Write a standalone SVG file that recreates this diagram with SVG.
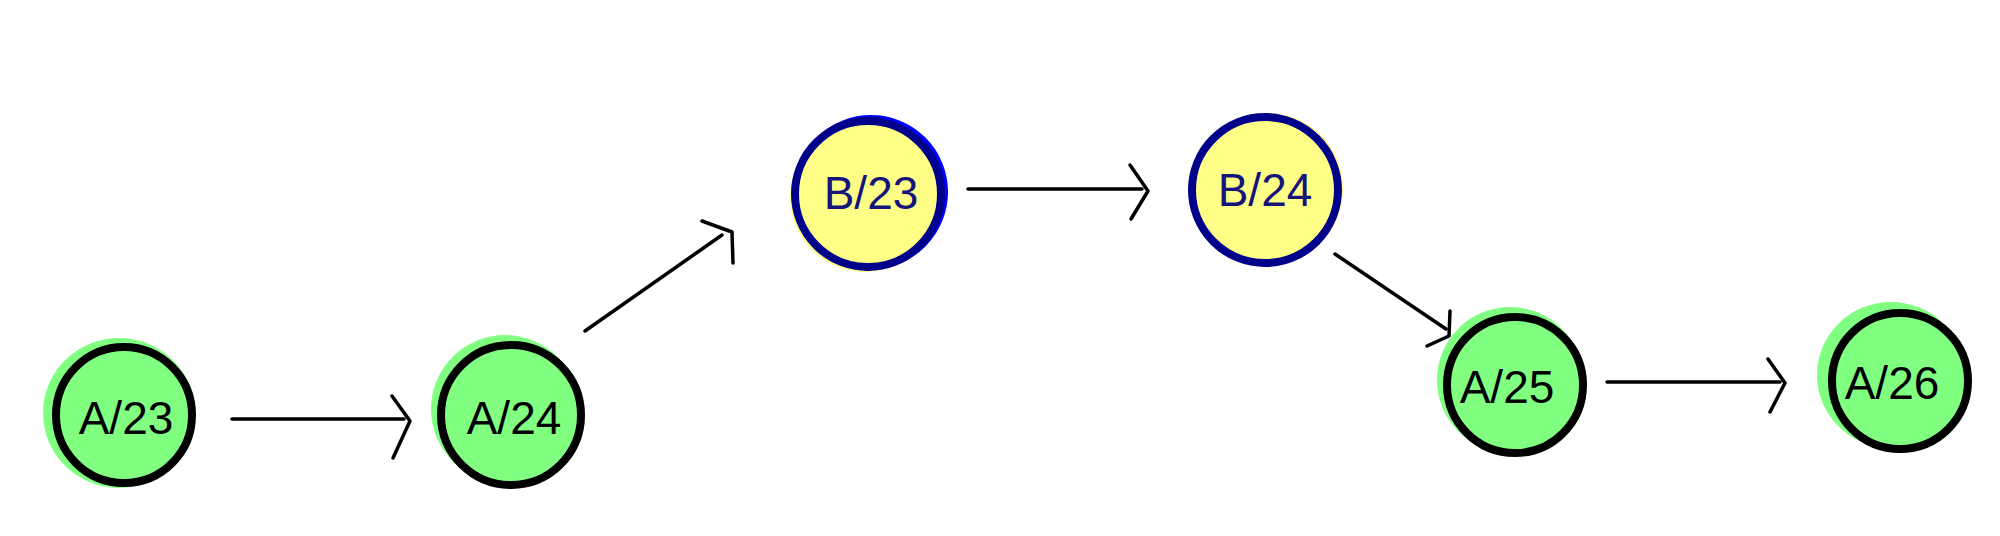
<svg xmlns="http://www.w3.org/2000/svg" width="2000" height="536" viewBox="0 0 2000 536">
<defs>
<style>
.blob-g{fill:#80ff80;stroke:none}
.ring-g{fill:#80ff80;stroke:#000;stroke-width:8}
.blob-y{fill:#ffff88;stroke:none}
.ring-y{fill:#ffff88;stroke:#00008b;stroke-width:8}
.ring-b{fill:none;stroke:#0000ff;stroke-width:6}
.lbl{font-family:"Liberation Sans",Arial,sans-serif;font-size:46px;text-anchor:middle;dominant-baseline:central}
.lbl-k{fill:#000}
.lbl-n{fill:#14147a}
.edge{fill:none;stroke:#000;stroke-width:3.5;stroke-linecap:round;stroke-linejoin:round}
</style>
</defs>
<rect width="2000" height="536" fill="#fff"/>
<g id="connectors">
<path class="edge" d="M232 419 L404 419"/><path class="edge" d="M392 396 L410 421 L393 458"/>
<path class="edge" d="M585 331 L722 235"/><path class="edge" d="M702 221 L732 232 L733 263"/>
<path class="edge" d="M968 189 L1142 189"/><path class="edge" d="M1130 165 L1148 191 L1131 219"/>
<path class="edge" d="M1335 254 L1446 329"/><path class="edge" d="M1450 311 L1449 336 L1427 346"/>
<path class="edge" d="M1607 382 L1780 382"/><path class="edge" d="M1768 359 L1785 383 L1770 412"/>
</g>
<g id="node-A23">
<ellipse class="blob-g" cx="119" cy="413" rx="76" ry="75"/>
<circle class="ring-g" cx="124" cy="415" r="68"/>
<text class="lbl lbl-k" x="126" y="418">A/23</text>
</g>
<g id="node-A24">
<ellipse class="blob-g" cx="505" cy="409" rx="74" ry="74"/>
<circle class="ring-g" cx="511" cy="415" r="70"/>
<text class="lbl lbl-k" x="514" y="418">A/24</text>
</g>
<g id="node-B23">
<circle class="blob-y" cx="865" cy="197" r="75"/>
<circle class="ring-b" cx="871" cy="192" r="74"/>
<circle class="ring-y" cx="868" cy="194" r="73"/>
<text class="lbl lbl-n" x="871" y="193">B/23</text>
</g>
<g id="node-B24">
<circle class="blob-y" cx="1268" cy="188" r="75"/>
<circle class="ring-y" cx="1265" cy="190" r="73"/>
<text class="lbl lbl-n" x="1265" y="190">B/24</text>
</g>
<g id="node-A25">
<ellipse class="blob-g" cx="1510" cy="380" rx="73" ry="73"/>
<circle class="ring-g" cx="1515" cy="385" r="68"/>
<text class="lbl lbl-k" x="1507" y="387">A/25</text>
</g>
<g id="node-A26">
<ellipse class="blob-g" cx="1891" cy="375" rx="74" ry="73"/>
<circle class="ring-g" cx="1900" cy="381" r="68"/>
<text class="lbl lbl-k" x="1892" y="383">A/26</text>
</g>
</svg>
